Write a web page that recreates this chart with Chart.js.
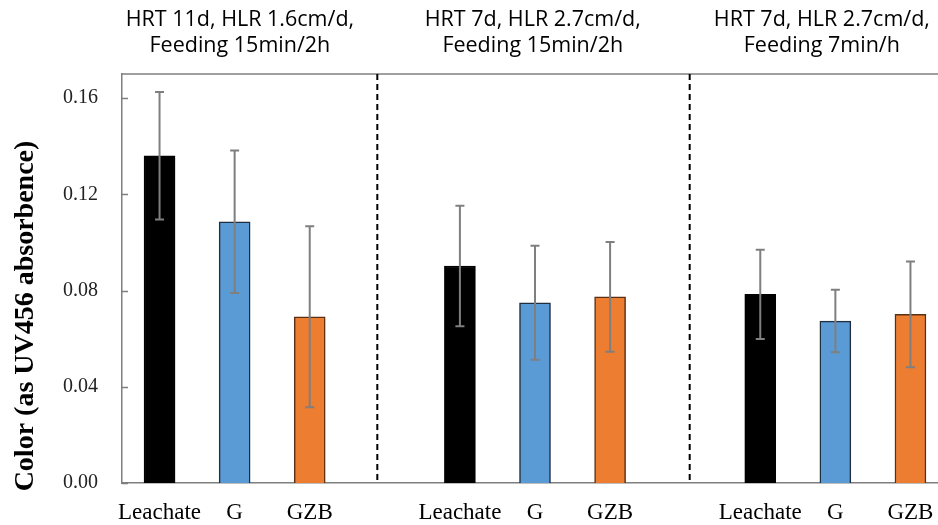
<!DOCTYPE html>
<html>
<head>
<meta charset="utf-8">
<script src="https://cdn.jsdelivr.net/npm/chart.js@4.4.0/dist/chart.umd.min.js"></script>
<style>
	html, body { margin: 0; padding: 0; background: #fff; overflow: hidden; }
	#wrap { width: 960px; height: 525px; }
</style>
</head>
<body>
<div id="wrap"><canvas id="myChart" width="960" height="525"></canvas></div>
<script>
// data
const categories = ['Leachate', 'G', 'GZB', '', 'Leachate', 'G', 'GZB', '', 'Leachate', 'G', 'GZB'];
const colorValues = [0.136, 0.1086, 0.0691, null, 0.0902, 0.0749, 0.0774, null, 0.0784, 0.0673, 0.0701];
const colorErrors = [0.0265, 0.0296, 0.0376, null, 0.025, 0.0237, 0.0228, null, 0.0185, 0.013, 0.022];
const yTicks = [0, 0.04, 0.08, 0.12, 0.16];
const groupTitles = [
	['HRT 11d, HLR 1.6cm/d,', 'Feeding 15min/2h'],
	['HRT 7d, HLR 2.7cm/d,', 'Feeding 15min/2h'],
	['HRT 7d, HLR 2.7cm/d,', 'Feeding 7min/h']
];
// where titles / dividers sit, in category units
const groupTitleAt = [1.07, 4.97, 8.82];
const dividerAt = [2.9, 7.06];

const fills = { 'Leachate': '#000000', 'G': '#5b9bd5', 'GZB': '#ed7d31', '': 'rgba(0,0,0,0)' };
const edges = { 'Leachate': '#000000', 'G': '#1f2f40', 'GZB': '#5a3015', '': 'rgba(0,0,0,0)' };

const extras = {
	id: 'extras',
	afterDatasetsDraw(chart) {
		const ctx = chart.ctx;
		const y = chart.scales.y;
		const meta = chart.getDatasetMeta(0);
		// error bars
		ctx.save();
		ctx.strokeStyle = '#7f7f7f';
		ctx.lineWidth = 2;
		colorValues.forEach(function (v, i) {
			if (v === null) return;
			const px = meta.data[i].x;
			const t = y.getPixelForValue(v + colorErrors[i]);
			const b = y.getPixelForValue(v - colorErrors[i]);
			ctx.beginPath();
			ctx.moveTo(px, t); ctx.lineTo(px, b);
			ctx.moveTo(px - 4.5, t); ctx.lineTo(px + 4.5, t);
			ctx.moveTo(px - 4.5, b); ctx.lineTo(px + 4.5, b);
			ctx.stroke();
		});
		ctx.restore();
	},
	afterDraw(chart) {
		const ctx = chart.ctx;
		const a = chart.chartArea;
		const x = chart.scales.x, y = chart.scales.y;
		ctx.save();
		// top frame line
		ctx.strokeStyle = '#7f7f7f';
		ctx.lineWidth = 1.5;
		ctx.beginPath();
		ctx.moveTo(a.left, a.top); ctx.lineTo(a.right, a.top);
		ctx.stroke();
		// inward ticks on y
		yTicks.forEach(function (t) {
			const py = Math.round(y.getPixelForValue(t)) + 0.5;
			ctx.beginPath();
			ctx.moveTo(a.left, py); ctx.lineTo(a.left + 6, py);
			ctx.stroke();
		});
		// dashed dividers
		ctx.strokeStyle = '#000';
		ctx.lineWidth = 2;
		ctx.setLineDash([6, 4]);
		dividerAt.forEach(function (d) {
			const px = x.getPixelForValue(d);
			ctx.beginPath();
			ctx.moveTo(px, a.top); ctx.lineTo(px, a.bottom);
			ctx.stroke();
		});
		ctx.setLineDash([]);
		// group titles
		ctx.fillStyle = '#000';
		ctx.font = '21.5px "Open Sans"';
		ctx.textAlign = 'center';
		ctx.textBaseline = 'middle';
		groupTitles.forEach(function (lines, g) {
			const px = x.getPixelForValue(groupTitleAt[g]);
			ctx.fillText(lines[0], px, 20);
			ctx.fillText(lines[1], px, 46);
		});
		// y axis title
		ctx.translate(26, 316);
		ctx.rotate(-Math.PI / 2);
		ctx.font = 'bold 28px "Liberation Serif"';
		ctx.fillText('Color (as UV456 absorbence)', 0, 0);
		ctx.restore();
	}
};

new Chart(document.getElementById('myChart'), {
	type: 'bar',
	data: {
		labels: categories,
		datasets: [{
			data: colorValues,
			backgroundColor: categories.map(c => fills[c]),
			borderColor: categories.map(c => edges[c]),
			borderWidth: 1.5,
			borderSkipped: 'bottom',
			barThickness: 31
		}]
	},
	options: {
		responsive: false,
		animation: false,
		layout: { padding: { top: 74, right: 12, left: 0, bottom: 0 } },
		plugins: { legend: { display: false }, tooltip: { enabled: false }, title: { display: false } },
		scales: {
			x: {
				grid: { display: false, drawTicks: false },
				border: { display: true, color: '#7f7f7f', width: 1.5 },
				ticks: {
					color: '#000',
					font: { family: '"Liberation Serif"', size: 23 },
					padding: 16,
					maxRotation: 0,
					autoSkip: false
				},
				afterFit(s) { s.height = 42; }
			},
			y: {
				min: 0,
				max: 0.17,
				grid: { display: false, drawTicks: false },
				border: { display: true, color: '#7f7f7f', width: 1.5 },
				afterBuildTicks(s) { s.ticks = yTicks.map(v => ({ value: v })); },
				ticks: {
					color: '#222',
					font: { family: '"Liberation Serif"', size: 20 },
					padding: 24,
					callback: v => Number(v).toFixed(2)
				},
				afterFit(s) { s.width = 122; }
			}
		}
	},
	plugins: [extras]
});
</script>
</body>
</html>
